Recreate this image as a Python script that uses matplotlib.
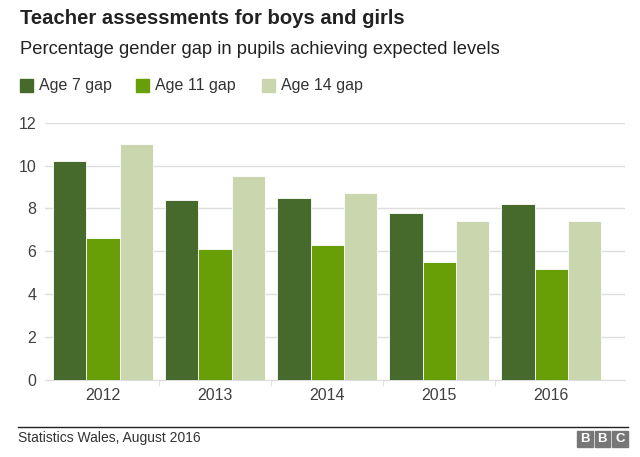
import matplotlib.pyplot as plt
from matplotlib.patches import Rectangle
import numpy as np

plt.rcParams['font.family'] = ['Liberation Sans', 'DejaVu Sans']

years = ['2012', '2013', '2014', '2015', '2016']
series_names = ['Age 7 gap', 'Age 11 gap', 'Age 14 gap']
age7 = [10.2, 8.4, 8.5, 7.8, 8.2]
age11 = [6.6, 6.1, 6.3, 5.5, 5.2]
age14 = [11.0, 9.5, 8.7, 7.4, 7.4]
colors = ['#466a2b', '#689f06', '#c9d6ae']

fig = plt.figure(figsize=[6.4, 4.57], dpi=100)
ax = fig.add_axes([0.07, 0.1685, 0.907, 0.563])

x = np.arange(len(years))
w = 0.297
for i, vals in enumerate([age7, age11, age14]):
    ax.bar(x + (i - 1) * w, vals, width=w, color=colors[i], edgecolor='white', linewidth=0.6, zorder=3)

ax.set_ylim(0, 12)
ax.set_xlim(-0.52, 4.66)
ax.set_yticks(range(0, 13, 2))
ax.set_xticks(x)
ax.set_xticklabels(years)
ax.set_xticks(x[:-1] + 0.5, minor=True)
ax.grid(axis='y', color='#dddddd', linewidth=1, zorder=0)
for s in ['top', 'right', 'left']:
    ax.spines[s].set_visible(False)
ax.spines['bottom'].set_color('#dddddd')
ax.tick_params(axis='y', length=0, labelsize=11.5, labelcolor='#404040', pad=6)
ax.tick_params(axis='x', which='major', length=0, labelsize=11.5, labelcolor='#404040', pad=6)
ax.tick_params(axis='x', which='minor', length=4, color='#dddddd')

# titles
fig.text(20 / 640, 1 - 18 / 457, 'Teacher assessments for boys and girls', fontsize=14.6,
         fontweight='bold', color='#222222', va='center')
fig.text(20 / 640, 1 - 50 / 457, 'Percentage gender gap in pupils achieving expected levels',
         fontsize=13.2, color='#222222', va='center')

# legend
lx = [20, 136, 262]
for i, name in enumerate(series_names):
    fig.patches.append(Rectangle((lx[i] / 640, 1 - 92 / 457), 13 / 640, 13 / 457,
                                 transform=fig.transFigure, color=colors[i]))
    fig.text((lx[i] + 19) / 640, 1 - 85.5 / 457, name, fontsize=11.5, color='#333333', va='center')

# footer
fig.add_artist(plt.Line2D([18 / 640, 628 / 640], [1 - 427 / 457, 1 - 427 / 457],
                          transform=fig.transFigure, color='#222222', linewidth=1))
fig.text(18 / 640, 1 - 438 / 457, 'Statistics Wales, August 2016', fontsize=10,
         color='#333333', va='center')
for i, ch in enumerate('BBC'):
    bx = 577 + i * 17.5
    fig.patches.append(Rectangle((bx / 640, 1 - 447 / 457), 15.5 / 640, 16 / 457,
                                 transform=fig.transFigure, color='#777777'))
    fig.text((bx + 7.75) / 640, 1 - 439 / 457, ch, fontsize=9.5, fontweight='bold',
             color='white', ha='center', va='center')

fig.savefig('out.png', dpi=100, facecolor='white')
